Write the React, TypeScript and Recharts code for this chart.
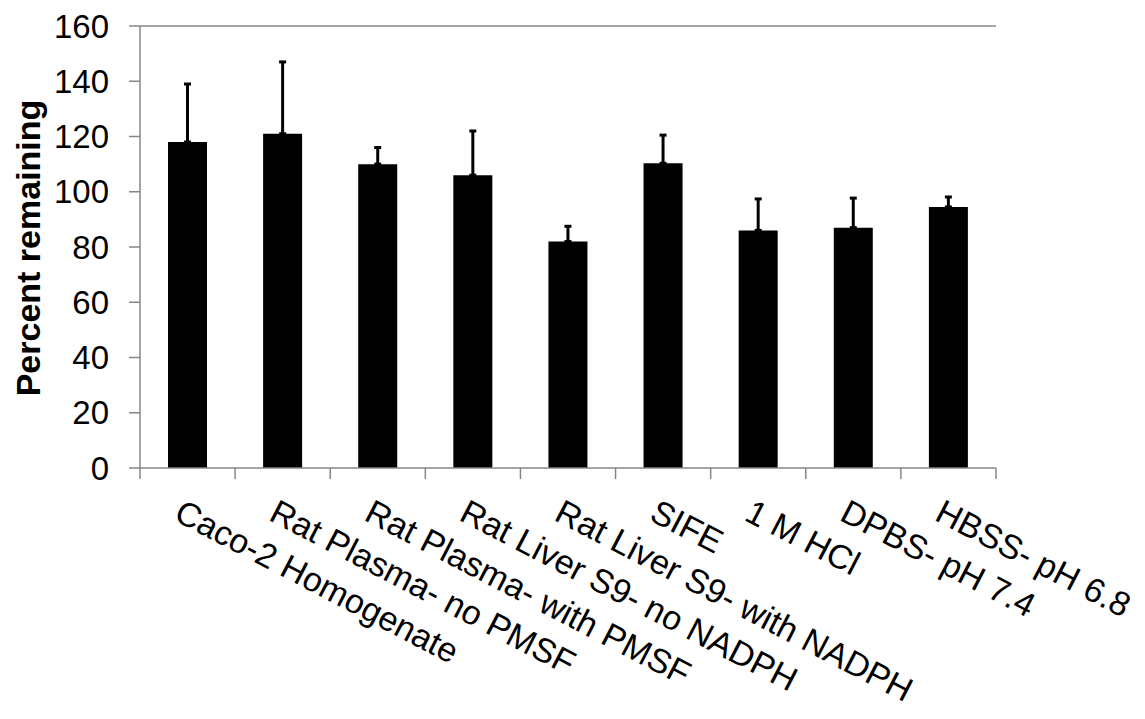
import React from 'react';
import { BarChart, Bar, XAxis, YAxis, ErrorBar, Label, ReferenceLine } from 'recharts';

const categories = [
  'Caco-2 Homogenate',
  'Rat Plasma- no PMSF',
  'Rat Plasma- with PMSF',
  'Rat Liver S9- no NADPH',
  'Rat Liver S9- with NADPH',
  'SIFE',
  '1 M HCl',
  'DPBS- pH 7.4',
  'HBSS- pH 6.8',
];
const percentRemaining = [118, 121, 110, 106, 82, 110.3, 86, 87, 94.5];
const upperError = [21, 26, 6, 16, 5.5, 10.2, 11.4, 10.7, 3.6];
const yTicks = [0, 20, 40, 60, 80, 100, 120, 140, 160];

const data = categories.map((name, i) => ({
  name,
  value: percentRemaining[i],
  err: [0, upperError[i]],
}));

const W = 1145;
const H = 719;
const PLOT_LEFT = 140;
const PLOT_RIGHT = 996;
const PLOT_TOP = 26;
const PLOT_BOTTOM = 468;
const BAND = (PLOT_RIGHT - PLOT_LEFT) / categories.length;
const AXIS = '#868686';
const FONT = 'Liberation Sans, Arial, sans-serif';

const XTick = (props: any) => {
  const { x, index, payload } = props;
  const tx = x - 4;
  const ty = PLOT_BOTTOM + 30;
  return (
    <g>
      <line x1={x - BAND / 2} x2={x - BAND / 2} y1={PLOT_BOTTOM} y2={PLOT_BOTTOM + 11} stroke={AXIS} strokeWidth={1.5} />
      {index === categories.length - 1 && (
        <line x1={x + BAND / 2} x2={x + BAND / 2} y1={PLOT_BOTTOM} y2={PLOT_BOTTOM + 11} stroke={AXIS} strokeWidth={1.5} />
      )}
      <text
        x={tx}
        y={ty}
        dy="0.71em"
        textAnchor="start"
        transform={`rotate(27.5 ${tx} ${ty})`}
        fontSize={34}
        fontFamily={FONT}
        fill="#000"
      >
        {payload.value}
      </text>
    </g>
  );
};

const YLabel = (props: any) => {
  const vb = props.viewBox || { x: 0, y: PLOT_TOP, height: PLOT_BOTTOM - PLOT_TOP };
  const lx = 40;
  const ly = vb.y + vb.height / 2 + 1;
  return (
    <text
      x={lx}
      y={ly}
      textAnchor="middle"
      transform={`rotate(-90 ${lx} ${ly})`}
      fontSize={34}
      fontWeight="bold"
      fontFamily={FONT}
      fill="#000"
    >
      Percent remaining
    </text>
  );
};

export default function App() {
  return (
    <div style={{ position: 'absolute', left: 0, top: 0, width: W, height: H, background: '#fff' }}>
      <BarChart
        width={W}
        height={H}
        data={data}
        margin={{ top: PLOT_TOP, right: W - PLOT_RIGHT, bottom: 0, left: 0 }}
        barSize={39}
      >
        <XAxis
          dataKey="name"
          interval={0}
          height={H - PLOT_BOTTOM}
          axisLine={{ stroke: AXIS, strokeWidth: 1.5 }}
          tickLine={false}
          tick={<XTick />}
        />
        <YAxis
          domain={[0, 160]}
          ticks={yTicks}
          interval={0}
          width={PLOT_LEFT}
          tickSize={11}
          tickMargin={20}
          axisLine={{ stroke: AXIS, strokeWidth: 1.5 }}
          tickLine={{ stroke: AXIS, strokeWidth: 1.5 }}
          tick={{ fontSize: 33, fontFamily: FONT, fill: '#000' }}
          allowDataOverflow
        >
          <Label content={<YLabel />} />
        </YAxis>
        <YAxis yAxisId="right" orientation="right" width={0} domain={[0, 160]} tick={false} tickLine={false} axisLine={{ stroke: AXIS, strokeWidth: 1.5 }} />
        <ReferenceLine y={160} stroke={AXIS} strokeWidth={1.5} ifOverflow="visible" />
        <Bar dataKey="value" fill="#000" isAnimationActive={false}>
          <ErrorBar dataKey="err" width={3.5} strokeWidth={3} stroke="#000" direction="y" />
        </Bar>
      </BarChart>
    </div>
  );
}
